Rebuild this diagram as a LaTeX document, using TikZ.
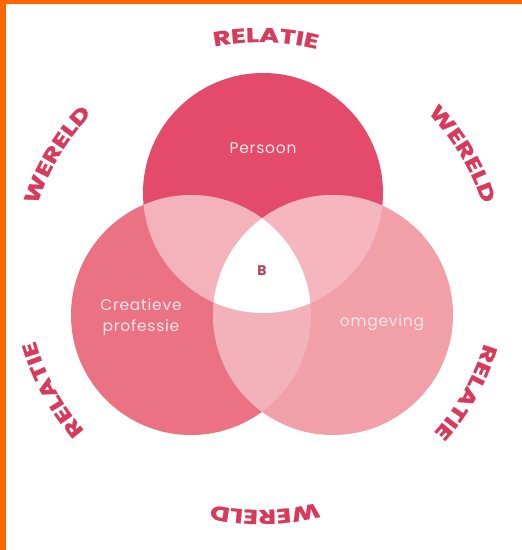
\documentclass[tikz,border=0pt]{standalone}
\usepackage{fontspec}
\setmainfont{Poppins}
\newfontfamily\labfont{Poppins}[FakeStretch=1.35, FakeBold=1.2]
\newfontfamily\innerfont{Poppins}[LetterSpace=5]
\usetikzlibrary{decorations.text}
\definecolor{orangeb}{HTML}{FF6600}
\definecolor{topc}{HTML}{E44A6A}
\definecolor{leftc}{HTML}{EB7282}
\definecolor{rightc}{HTML}{F0A0A6}
\definecolor{tlc}{HTML}{F4B3BB}
\definecolor{trc}{HTML}{F5B6BE}
\definecolor{lrc}{HTML}{F3B1B9}
\definecolor{labc}{HTML}{D93A5C}
\definecolor{innertxt}{HTML}{FBE6EA}
\definecolor{bc}{HTML}{B5425E}
\tikzset{
  intext/.style={font=\innerfont\fontsize{15.5}{21}\selectfont, text=innertxt, align=center, inner sep=0pt},
}
\begin{document}
\begin{tikzpicture}[x=1pt,y=1pt]
\useasboundingbox (0,0) rectangle (522,550);
\fill[white] (0,0) rectangle (522,550);
\fill[orangeb] (0,546) rectangle (522,550);
\fill[orangeb] (0,0) rectangle (6,550);
\coordinate (T) at (263,357);
\coordinate (L) at (191,235);
\coordinate (R) at (333,235);
\def\rr{120}
\fill[topc] (T) circle[radius=\rr];
\fill[leftc] (L) circle[radius=\rr];
\fill[rightc] (R) circle[radius=\rr];
\begin{scope}\clip (T) circle[radius=\rr]; \fill[tlc] (L) circle[radius=\rr];\end{scope}
\begin{scope}\clip (T) circle[radius=\rr]; \fill[trc] (R) circle[radius=\rr];\end{scope}
\begin{scope}\clip (L) circle[radius=\rr]; \fill[lrc] (R) circle[radius=\rr];\end{scope}
\begin{scope}\clip (T) circle[radius=\rr]; \clip (L) circle[radius=\rr]; \fill[white] (R) circle[radius=\rr];\end{scope}
\node[intext] (persoon) at (263,402) {Persoon};
\node[intext] (creat) at (141,233) {Creatieve\\professie};
\node[intext] (omg) at (382,227) {omgeving};
\node[font=\bfseries\fontsize{14}{14}\selectfont, text=bc, inner sep=0pt] (b) at (262,279) {B};
\coordinate (O) at (260,274);
\foreach \a/\w in {88.6/RELATIE, 31.1/WERELD, -29.4/RELATIE, -88.8/WERELD, 208.7/RELATIE, 149.2/WERELD}{
  \path[decorate, decoration={text along path, text align=center,
     text={|\labfont\bfseries\fontsize{20}{20}\selectfont\color{labc}|\w}}]
     (O) ++(\a+30:234) arc[start angle=\a+30, end angle=\a-30, radius=234];
}
\end{tikzpicture}
\end{document}
